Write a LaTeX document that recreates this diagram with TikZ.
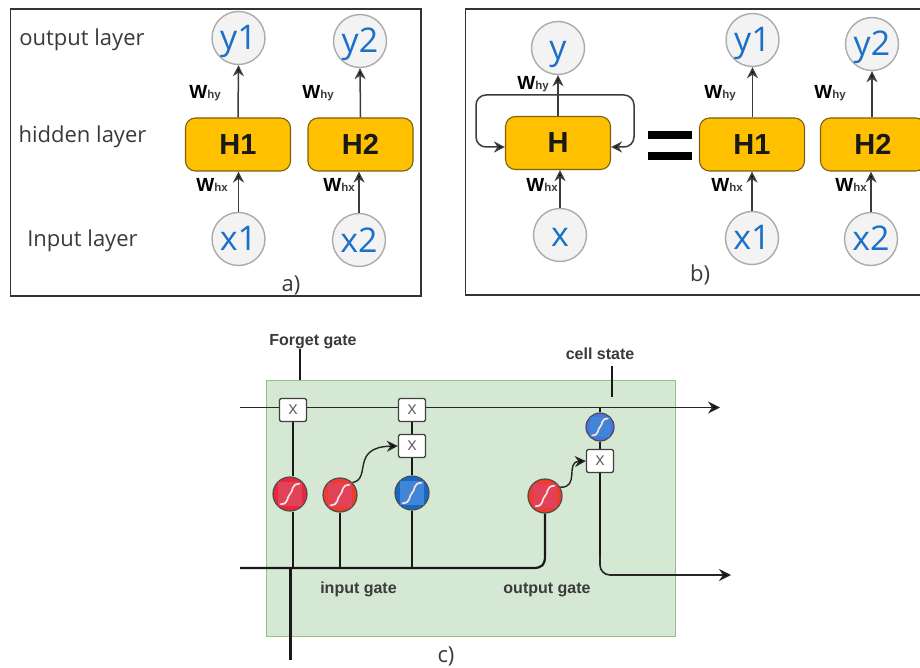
\documentclass[tikz,border=0pt]{standalone}
\usepackage{fontspec}
\setmainfont{Open Sans}
\newfontfamily\arialf{Liberation Sans}
\usetikzlibrary{arrows.meta,calc}
\definecolor{ring}{HTML}{ABABAB}
\definecolor{ringfill}{HTML}{F3F3F3}
\definecolor{nodeblue}{HTML}{1C70C8}
\definecolor{hfill}{HTML}{FFC000}
\definecolor{hedge}{HTML}{7D6010}
\definecolor{wire}{HTML}{3C3C3C}
\definecolor{txt}{HTML}{3A3A3A}
\definecolor{panelgreen}{HTML}{D5E8D4}
\definecolor{paneledge}{HTML}{96C08A}
\definecolor{redA}{HTML}{E8283A}
\definecolor{redB}{HTML}{EE3B2C}
\definecolor{blueA}{HTML}{1767C4}
\definecolor{blueB}{HTML}{4A72E0}
\definecolor{pinkS}{HTML}{E24258}
\definecolor{blueS}{HTML}{3F86D8}
\newcommand{\wlab}[2]{{\arialf\bfseries\fontsize{19}{19}\selectfont #1\fontsize{11.5}{11.5}\selectfont\textcolor{txt}{#2}}}
\newcommand{\ssign}[3]{%
  \fill[#3] ($(#1.center)+(-#2*0.68,-#2*0.68)$) rectangle ($(#1.center)+(#2*0.68,#2*0.68)$);
  \draw[white!88!red,line width=1.7pt,line cap=round] ($(#1.center)+(-#2*0.55,#2*0.6)$) .. controls +(#2*0.5,0) and +(-#2*0.2,#2*0.15) .. (#1.center) .. controls +(#2*0.2,-#2*0.15) and +(-#2*0.5,0) .. ($(#1.center)+(#2*0.55,-#2*0.6)$);}
\tikzset{
  x=1pt,y=-1pt,
  panel/.style={draw=black!80,line width=1.1pt},
  unit/.style={circle,draw=ring,fill=ringfill,line width=1.4pt,minimum size=53pt,inner sep=0pt,text=nodeblue,text height=24pt,text depth=0pt,font=\fontsize{34}{34}\selectfont},
  hbox/.style={draw=hedge,fill=hfill,rounded corners=10pt,line width=1.1pt,minimum width=105pt,minimum height=53pt,inner sep=0pt,font=\arialf\bfseries\fontsize{29}{29}\selectfont,text=black!90},
  link/.style={draw=wire,line width=1.5pt,-{Stealth[length=11pt,width=11pt,fill=black]}},
  layerlab/.style={text=txt,font=\fontsize{22}{22}\selectfont,inner sep=0pt},
  caplab/.style={text=txt,font=\fontsize{22}{22}\selectfont,inner sep=0pt},
  wlabel/.style={inner sep=0pt},
  gatelab/.style={text=txt,inner sep=0pt,font=\arialf\bfseries\fontsize{16}{16}\selectfont},
  mult/.style={draw=black!75,fill=white,rounded corners=2pt,line width=1.3pt,minimum width=27pt,minimum height=23pt,inner sep=0pt,text=black!60,font=\fontsize{18}{18}\selectfont},
  heavy/.style={draw=black!90,line width=2.2pt},
  thin/.style={draw=black!85,line width=1.4pt},
  flow/.style={draw=black!85,line width=1.6pt,-{Stealth[length=12pt,width=12pt,fill=black]}},
  sigred/.style={circle,draw=black!70,fill=redA,line width=1.2pt,minimum size=34pt,inner sep=0pt},
  sigred2/.style={circle,draw=black!70,fill=redB,line width=1.2pt,minimum size=34pt,inner sep=0pt},
  sigblue/.style={circle,draw=black!70,fill=blueA,line width=1.2pt,minimum size=34pt,inner sep=0pt},
  sigsmall/.style={circle,draw=black!70,fill=blueB,line width=1.2pt,minimum size=28pt,inner sep=0pt},
}
\begin{document}
\begin{tikzpicture}
\clip (0,0) rectangle (920,668);
\fill[white] (0,0) rectangle (920,668);
% panel a
\node[panel,minimum width=410.5pt,minimum height=287pt,inner sep=0pt] (pa) at (215.75,152.5) {};
\node[layerlab] (la1) at (82,39.5) {output layer};
\node[layerlab] (la2) at (82.5,136.5) {hidden layer};
\node[layerlab] (la3) at (82.5,240.5) {Input layer};
\node[unit] (ay1) at (238.5,38) {y1};
\node[unit] (ay2) at (360,41) {y2};
\node[unit] (ax1) at (238.5,239) {x1};
\node[unit] (ax2) at (359,240) {x2};
\node[hbox] (aH1) at (238,144.5) {H1};
\node[hbox] (aH2) at (360.5,144.5) {H2};
\draw[link] (aH1.north) -- (ay1.south);
\draw[link] (aH2.north) -- (ay2.south);
\draw[link] (ax1.north) -- (ax1.north |- aH1.south);
\draw[link] (ax2.north) -- (ax2.north |- aH2.south);
\node[wlabel] (aw1) at (205,93) {\wlab{W}{hy}};
\node[wlabel] (aw2) at (318,93) {\wlab{W}{hy}};
\node[wlabel] (aw3) at (212,185) {\wlab{W}{hx}};
\node[wlabel] (aw4) at (339,185) {\wlab{W}{hx}};
\node[caplab] (capa) at (291,285) {a)};
% panel b
\draw[panel] (930,9) -- (465.5,9) -- (465.5,295) -- (930,295);
\node[unit] (by) at (558,48) {y};
\node[unit] (bx) at (560,235) {x};
\node[unit] (by1) at (752.5,40) {y1};
\node[unit] (by2) at (872,44) {y2};
\node[unit] (bx1) at (752,238) {x1};
\node[unit] (bx2) at (871,239) {x2};
\node[hbox] (bH) at (558,143) {H};
\node[hbox] (bH1) at (752,144.5) {H1};
\node[hbox] (bH2) at (873,144.5) {H2};
\draw[link] (bH.north) -- (by.south);
\draw[link] (by1.south |- bH1.north) -- (by1.south);
\draw[link] (by2.south |- bH2.north) -- (by2.south);
\draw[link] (bx.north) -- (bx.north |- bH.south);
\draw[link] (bx1.north) -- (bx1.north |- bH1.south);
\draw[link] (bx2.north) -- (bx2.north |- bH2.south);
\coordinate (lt) at (558,95);
\draw[link,rounded corners=10pt] (lt) -- (476,95) -- (476,147) -- (bH.west |- 0,147);
\draw[link,rounded corners=10pt] (lt) -- (634,95) -- (634,147) -- (bH.east |- 0,147);
\node[wlabel] (bw1) at (533,84) {\wlab{W}{hy}};
\node[wlabel] (bw2) at (720,93) {\wlab{W}{hy}};
\node[wlabel] (bw3) at (830,93) {\wlab{W}{hy}};
\node[wlabel] (bw4) at (542,185) {\wlab{W}{hx}};
\node[wlabel] (bw5) at (727,185) {\wlab{W}{hx}};
\node[wlabel] (bw6) at (851,185) {\wlab{W}{hx}};
\fill[black] (648,131) rectangle (692,139);
\fill[black] (648,152) rectangle (692,160);
\node[caplab] (capb) at (700,275) {b)};
% panel c
\node[draw=paneledge,fill=panelgreen,line width=1pt,minimum width=409pt,minimum height=256pt,inner sep=0pt] (pc) at (470.5,508) {};
\coordinate (cl1) at (240,407.5);
\coordinate (cr1) at (720,407.5);
\coordinate (cl2) at (240,568);
\coordinate (cb) at (290.5,660);
\coordinate (cr2) at (731,575);
\coordinate (ft) at (300,349);
\coordinate (ftb) at (300,380);
\coordinate (cst) at (612,366);
\coordinate (csb) at (612,397);
\coordinate (j1) at (293,568);
\coordinate (j2) at (340,568);
\coordinate (j3) at (412,568);
\coordinate (j0) at (290.5,568);
\node[gatelab] (tf) at (313,341.5) {Forget gate};
\node[gatelab] (tc) at (600,353.5) {cell state};
\node[gatelab] (ti) at (358.5,589.5) {input gate};
\node[gatelab] (to) at (547,589.5) {output gate};
\node[caplab] (capc) at (446,656) {c)};
\draw[heavy] (ft) -- (ftb);
\draw[heavy] (cst) -- (csb);
\draw[flow] (cl1) -- (cr1);
\node[sigred] (r1) at (290,494) {};
\node[sigred2] (r2) at (340,495) {};
\node[sigblue] (b1) at (412,493) {};
\node[sigred2] (r3) at (545,496) {};
\node[sigsmall] (b2) at (600,427) {};
\node[mult] (m1) at (293,410) {x};
\node[mult] (m2) at (412,410) {x};
\node[mult] (m3) at (412,446) {x};
\node[mult] (m4) at (600,461) {x};
\draw[heavy] (m1.south) -- (m1.south |- r1.north);
\draw[heavy] (m1.south |- r1.south) -- (j1);
\draw[heavy] (r2.south) -- (j2);
\draw[heavy] (m2.south) -- (m3.north);
\draw[heavy] (m3.south) -- (b1.north);
\draw[heavy] (b1.south) -- (j3);
\draw[heavy] (j0) -- (cb);
\draw[heavy] (cl2) -- (533,568) .. controls (542,568) and (545,565) .. (545,556) -- (r3.south);
\draw[heavy] (600,407.5) -- (b2.north);
\draw[heavy] (b2.south) -- (m4.north);
\draw[heavy] (m4.south) -- (600,555);
\draw[flow,rounded corners=10pt] (600,555) -- (600,575) -- (cr2);
\draw[thin,-{Stealth[length=11pt,width=11pt,fill=black]}] (r2.45) .. controls (372,479) and (350,447) .. (m3.west);
\draw[thin,-{Stealth[length=11pt,width=11pt,fill=black]}] (r3.30) .. controls (580,488) and (565,462) .. (m4.west);
\ssign{r1}{17}{pinkS}
\ssign{r2}{17}{pinkS}
\ssign{b1}{17}{blueS}
\ssign{r3}{17}{pinkS}
\ssign{b2}{14}{blueS}
\end{tikzpicture}
\end{document}
